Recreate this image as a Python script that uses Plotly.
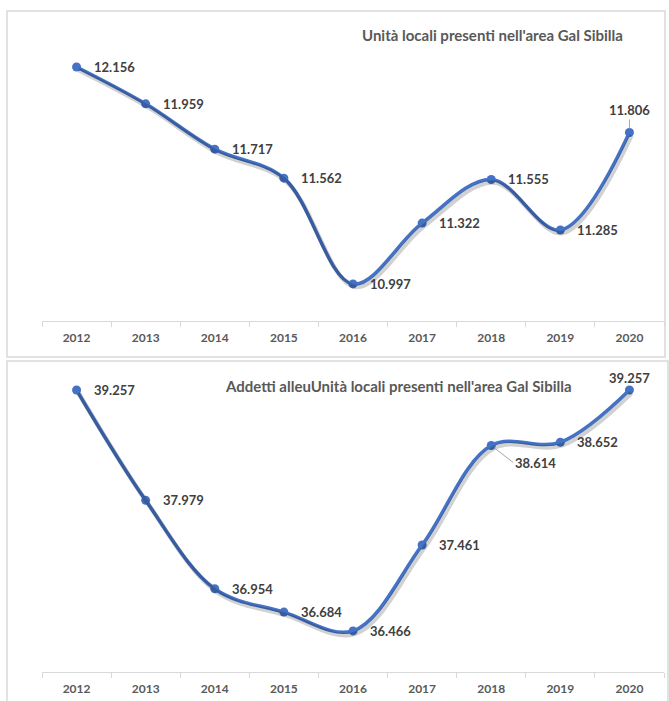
import plotly.graph_objects as go

years = ["2012", "2013", "2014", "2015", "2016", "2017", "2018", "2019", "2020"]
unita = [12.156, 11.959, 11.717, 11.562, 10.997, 11.322, 11.555, 11.285, 11.806]
addetti = [39.257, 37.979, 36.954, 36.684, 36.466, 37.461, 38.614, 38.652, 39.257]
unita_labels = ["12.156", "11.959", "11.717", "11.562", "10.997", "11.322", "11.555", "11.285", "11.806"]
addetti_labels = ["39.257", "37.979", "36.954", "36.684", "36.466", "37.461", "38.614", "38.652", "39.257"]
title_top = "Unità locali presenti nell'area Gal Sibilla"
title_bottom = "Addetti alleuUnità locali presenti nell'area Gal Sibilla"

W, H = 669, 701
BLUE = "#4472C4"
FONT = "Lato"
LABEL_COLOR = "#404040"
AXIS_TEXT = "#595959"
GRID = "#d9d9d9"

def px_x(p):
    return p / W

def px_y(p):
    return (H - p) / H

fig = go.Figure()

# plot area geometry (pixels)
xl, xr = 42, 664
top_y0, top_y1 = 20, 321
bot_y0, bot_y1 = 375, 672
top_range = [10.799, 12.407]
bot_range = [35.99, 39.431]

dx, dy = 2, 3  # shadow offset

def xdom(off=0):
    return [px_x(xl + off), px_x(xr + off)]

def ydom(a, b, off=0):
    return [px_y(b + off), px_y(a + off)]

# shadow traces
fig.add_trace(go.Scatter(x=years, y=unita, mode="lines", line=dict(color="rgba(0,0,0,0.18)", width=4.5, shape="spline"),
                         xaxis="x3", yaxis="y3", hoverinfo="skip", showlegend=False))
fig.add_trace(go.Scatter(x=years, y=addetti, mode="lines", line=dict(color="rgba(0,0,0,0.18)", width=4.5, shape="spline"),
                         xaxis="x4", yaxis="y4", hoverinfo="skip", showlegend=False))
# main traces
fig.add_trace(go.Scatter(x=years, y=unita, mode="lines+markers", line=dict(color=BLUE, width=3.5, shape="spline"),
                         marker=dict(size=9, color=BLUE), xaxis="x", yaxis="y", showlegend=False))
fig.add_trace(go.Scatter(x=years, y=addetti, mode="lines+markers", line=dict(color=BLUE, width=3.5, shape="spline"),
                         marker=dict(size=9, color=BLUE), xaxis="x2", yaxis="y2", showlegend=False))

cat_axis = dict(type="category", range=[-0.5, 8.5], showgrid=False, zeroline=False,
                showline=True, linecolor=GRID, linewidth=1, ticks="outside", tickson="boundaries",
                ticklen=5, tickcolor=GRID, ticklabelstandoff=6,
                tickfont=dict(family=FONT, size=12, color=AXIS_TEXT, weight="bold"),
                fixedrange=True)
hidden = dict(visible=False, fixedrange=True)

fig.update_layout(
    width=W, height=H, margin=dict(l=0, r=0, t=0, b=0),
    paper_bgcolor="white", plot_bgcolor="rgba(0,0,0,0)",
    xaxis=dict(cat_axis, domain=xdom(), anchor="y"),
    yaxis=dict(hidden, domain=ydom(top_y0, top_y1), range=top_range, anchor="x"),
    xaxis2=dict(cat_axis, domain=xdom(), anchor="y2"),
    yaxis2=dict(hidden, domain=ydom(bot_y0, bot_y1), range=bot_range, anchor="x2"),
    xaxis3=dict(hidden, type="category", range=[-0.5, 8.5], domain=xdom(dx), anchor="y3"),
    yaxis3=dict(hidden, domain=ydom(top_y0, top_y1, dy), range=top_range, anchor="x3"),
    xaxis4=dict(hidden, type="category", range=[-0.5, 8.5], domain=xdom(dx), anchor="y4"),
    yaxis4=dict(hidden, domain=ydom(bot_y0, bot_y1, dy), range=bot_range, anchor="x4"),
    font=dict(family=FONT),
)

shapes = [
    dict(type="rect", xref="paper", yref="paper", x0=px_x(7), x1=px_x(665), y0=px_y(357), y1=px_y(11),
         line=dict(color=GRID, width=1.5), fillcolor="rgba(0,0,0,0)", layer="below"),
    dict(type="rect", xref="paper", yref="paper", x0=px_x(7), x1=px_x(668), y0=px_y(710), y1=px_y(361),
         line=dict(color=GRID, width=1.5), fillcolor="rgba(0,0,0,0)", layer="below"),
]
fig.update_layout(shapes=shapes)

annotations = []
lab_font = dict(family=FONT, size=13, color=LABEL_COLOR, weight="bold")

# top labels
for i, (v, t) in enumerate(zip(unita, unita_labels)):
    if i == 8:
        annotations.append(dict(x=i, y=v, xref="x", yref="y", text=t, showarrow=True, arrowhead=0,
                                arrowcolor="#a6a6a6", arrowwidth=1, ax=0, ay=-13, standoff=4,
                                font=lab_font, xanchor="center", yanchor="bottom"))
    else:
        annotations.append(dict(x=i, y=v, xref="x", yref="y", text=t, showarrow=False,
                                xanchor="left", yanchor="middle", xshift=15, font=lab_font))

# bottom labels
for i, (v, t) in enumerate(zip(addetti, addetti_labels)):
    if i == 8:
        annotations.append(dict(x=i, y=v, xref="x2", yref="y2", text=t, showarrow=False,
                                xanchor="center", yanchor="bottom", yshift=2, font=lab_font))
    elif i == 6:
        annotations.append(dict(x=i, y=v, xref="x2", yref="y2", text=t, showarrow=True, arrowhead=0,
                                arrowcolor="#a6a6a6", arrowwidth=1, ax=22, ay=17, standoff=4,
                                font=lab_font, xanchor="left", yanchor="middle"))
    else:
        annotations.append(dict(x=i, y=v, xref="x2", yref="y2", text=t, showarrow=False,
                                xanchor="left", yanchor="middle", xshift=15, font=lab_font))

title_font = dict(family=FONT, size=15, color=AXIS_TEXT, weight="bold")
annotations.append(dict(x=px_x(625), y=px_y(35), xref="paper", yref="paper", text=title_top, showarrow=False,
                        xanchor="right", yanchor="middle", font=title_font))
annotations.append(dict(x=px_x(398), y=px_y(386), xref="paper", yref="paper", text=title_bottom, showarrow=False,
                        xanchor="center", yanchor="middle", font=title_font))
fig.update_layout(annotations=annotations)

fig.write_html("out.html", config={"displayModeBar": False},
               post_script="document.body.style.margin='0';document.body.style.padding='0';")
